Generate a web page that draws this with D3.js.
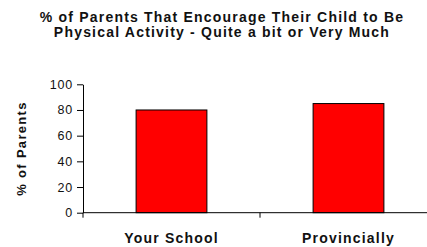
<!DOCTYPE html>
<html>
<head>
<meta charset="utf-8">
<script src="https://cdn.jsdelivr.net/npm/d3@7"></script>
<style>
  body { margin: 0; background: #fff; }
  text { font-family: "Liberation Sans", Arial, sans-serif; }
</style>
</head>
<body>
<div class="canvas"></div>
<script>
const categories = ['Your School', 'Provincially'];
const values = [80, 85];
const yTicks = [0, 20, 40, 60, 80, 100];
const titleLines = ['% of Parents That Encourage Their Child to Be', 'Physical Activity - Quite a bit or Very Much'];

const width = 427, height = 247;
const margin = { top: 84, left: 83, bottom: 34 };

const svg = d3.select('.canvas')
  .append('svg')
  .attr('width', width)
  .attr('height', height);

const yScale = d3.scaleLinear()
  .domain([0, 100])
  .range([height - margin.bottom - 0.3, margin.top + 0.3]);

const xScale = d3.scaleBand()
  .domain(categories)
  .range([margin.left, 437])
  .paddingInner(0.6)
  .paddingOuter(0.3);

// title
svg.append('g')
  .selectAll('text')
  .data(titleLines)
  .join('text')
  .attr('x', 222)
  .attr('y', (d, i) => 22 + i * 14.5)
  .attr('text-anchor', 'middle')
  .attr('font-size', 14)
  .attr('font-weight', 'bold')
  .attr('letter-spacing', 1.2)
  .attr('fill', '#111')
  .text(d => d);

// y axis
const yAxis = svg.append('g')
  .attr('transform', `translate(${margin.left},0)`)
  .call(d3.axisLeft(yScale).tickValues(yTicks).tickSize(6).tickSizeOuter(0).tickPadding(4));
yAxis.select('.domain').attr('stroke', '#000');
yAxis.selectAll('.tick line').attr('stroke', '#000');
yAxis.selectAll('.tick text').attr('font-size', 12.5).attr('fill', '#111')
  .attr('letter-spacing', 0.8)
  .attr('font-family', '"Liberation Sans", Arial, sans-serif');

// bars
svg.append('g')
  .selectAll('rect')
  .data(values)
  .join('rect')
  .attr('x', (d, i) => xScale(categories[i]))
  .attr('y', d => yScale(d))
  .attr('width', xScale.bandwidth())
  .attr('height', d => yScale(0) - yScale(d))
  .attr('fill', '#ff0000')
  .attr('stroke', '#000')
  .attr('stroke-width', 1);

// x axis
const y0 = yScale(0);
const xAxis = svg.append('g');
xAxis.append('line')
  .attr('x1', margin.left).attr('x2', width)
  .attr('y1', y0).attr('y2', y0)
  .attr('stroke', '#000');
const boundaries = [margin.left, xScale.range()[0] + xScale.step() * 1, xScale.range()[1]];
xAxis.selectAll('.xtick')
  .data(boundaries)
  .join('line')
  .attr('class', 'xtick')
  .attr('x1', d => d).attr('x2', d => d)
  .attr('y1', y0).attr('y2', y0 + 5)
  .attr('stroke', '#000');
xAxis.selectAll('.xlab')
  .data(categories)
  .join('text')
  .attr('class', 'xlab')
  .attr('x', d => xScale(d) + xScale.bandwidth() / 2)
  .attr('y', 243)
  .attr('text-anchor', 'middle')
  .attr('font-size', 14)
  .attr('font-weight', 'bold')
  .attr('letter-spacing', 1.2)
  .attr('fill', '#111')
  .text(d => d);

// y axis title
svg.append('text')
  .attr('transform', `translate(26,${(yScale(0) + yScale(100)) / 2}) rotate(-90)`)
  .attr('text-anchor', 'middle')
  .attr('font-size', 13)
  .attr('font-weight', 'bold')
  .attr('letter-spacing', 1.3)
  .attr('fill', '#111')
  .text('% of Parents');
</script>
</body>
</html>
